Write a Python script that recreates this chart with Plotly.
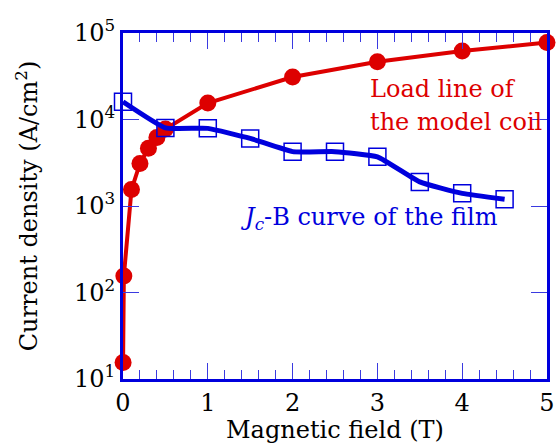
import plotly.graph_objects as go

# Load line of the model coil (red)
load_B = [0.001, 0.01, 0.1, 0.2, 0.3, 0.4, 0.5, 1, 2, 3, 4, 5]
load_J = [15.5, 155, 1550, 3100, 4650, 6200, 7750, 15500, 31000, 46500, 62000, 77500]

# Jc-B curve of the film (blue)
jc_B = [0, 0.5, 1, 1.5, 2, 2.5, 3, 3.5, 4, 4.5]
jc_J = [16000, 8000, 7900, 6050, 4250, 4250, 3700, 1900, 1400, 1200]

ytick_vals = [10, 100, 1000, 10000, 100000]
ytick_text = ["10<sup>1</sup>", "10<sup>2</sup>", "10<sup>3</sup>", "10<sup>4</sup>", "10<sup>5</sup>"]

RED = "#dd0000"
BLUE = "#0000dd"
FONT = "DejaVu Serif"

fig = go.Figure()
fig.add_trace(go.Scatter(
    x=load_B, y=load_J, mode="lines+markers",
    line=dict(color=RED, width=4),
    marker=dict(symbol="circle", size=17, color=RED),
    cliponaxis=False, showlegend=False,
))
fig.add_trace(go.Scatter(
    x=jc_B, y=jc_J, mode="lines+markers",
    line=dict(color=BLUE, width=5, shape="spline", smoothing=0.4),
    marker=dict(symbol="square-open", size=17, color=BLUE, line=dict(width=1.5, color=BLUE)),
    cliponaxis=False, showlegend=False,
))

fig.add_annotation(text="Load line of", xref="paper", yref="paper", x=0.578, y=0.838,
                   xanchor="left", yanchor="middle", showarrow=False,
                   font=dict(family=FONT, size=24, color=RED))
fig.add_annotation(text="the model coil", xref="paper", yref="paper", x=0.578, y=0.743,
                   xanchor="left", yanchor="middle", showarrow=False,
                   font=dict(family=FONT, size=24, color=RED))
fig.add_annotation(text="<i>J</i><sub><i>c</i></sub>-B curve of the film", xref="paper", yref="paper",
                   x=0.271, y=0.465, xanchor="left", yanchor="middle", showarrow=False,
                   font=dict(family=FONT, size=24, color=BLUE))

fig.update_layout(
    width=556, height=444,
    margin=dict(l=123, r=9, t=33, b=65),
    paper_bgcolor="white", plot_bgcolor="white",
    font=dict(family=FONT, size=24, color="black"),
    xaxis=dict(
        range=[0, 5], dtick=1, tick0=0, automargin=False,
        showline=True, linecolor=BLUE, linewidth=3, mirror="allticks",
        ticks="inside", ticklen=16, tickwidth=1.2, tickcolor="#3a3ae0",
        minor=dict(dtick=0.2, ticks="inside", ticklen=9, tickwidth=1.2, tickcolor="#3a3ae0"),
        showgrid=False, zeroline=False,
        tickfont=dict(family=FONT, size=24),
        title=dict(text="Magnetic field (T)", font=dict(family=FONT, size=24), standoff=8),
    ),
    yaxis=dict(
        type="log", range=[1, 5], automargin=False,
        tickvals=ytick_vals, ticktext=ytick_text,
        showline=True, linecolor=BLUE, linewidth=3, mirror="allticks",
        ticks="inside", ticklen=16, tickwidth=1.2, tickcolor="#3a3ae0",
        showgrid=False, zeroline=False,
        tickfont=dict(family=FONT, size=24),
        title=dict(text="Current density (A/cm<sup>2</sup>)", font=dict(family=FONT, size=24), standoff=30),
    ),
)

fig.write_html("out.html", config={"displayModeBar": False},
               post_script="document.body.style.margin='0';document.body.style.overflow='hidden';")
